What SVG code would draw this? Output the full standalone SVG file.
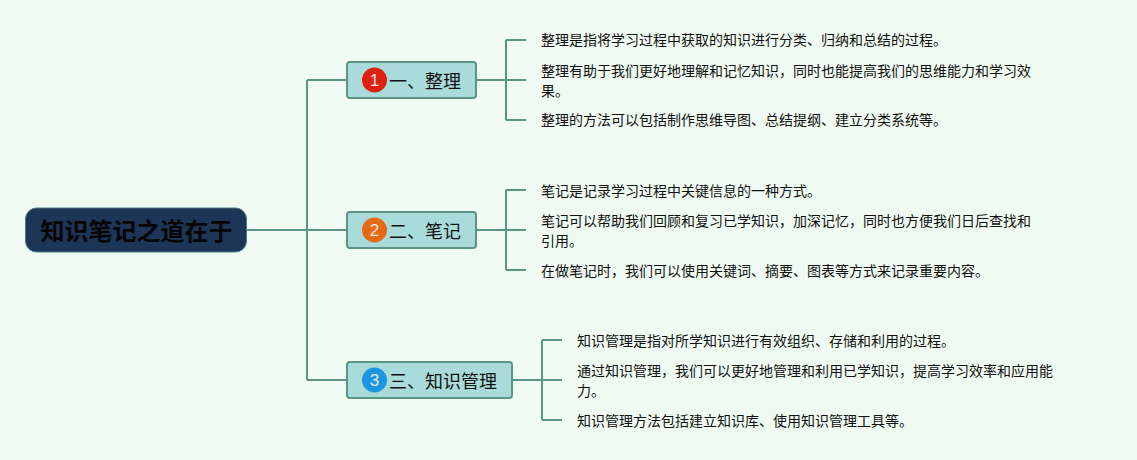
<svg xmlns="http://www.w3.org/2000/svg" width="1137" height="460" viewBox="0 0 1137 460">
<style>
text{font-family:"Noto Sans CJK SC","Noto Sans",sans-serif;fill:#111}
.c{fill:none;stroke:#5b9485;stroke-width:2}
.b{fill:#a8dbda;stroke:#5b9485;stroke-width:2}
.l{font-size:14px}
.t{font-size:18px}
.n{font-family:"Liberation Sans",sans-serif;font-size:17px;fill:#f3e6dc;text-anchor:middle}
</style>
<rect width="1137" height="460" fill="#eefaf2"/>
<g id="connectors">
<path class="c" d="M247 230H347M307 80V380M307 80H347M307 380H347"/>
<path class="c" d="M477 80H526M506 40V120M506 40H526M506 120H526"/>
<path class="c" d="M477 230H526M506 190V270M506 190H526M506 270H526"/>
<path class="c" d="M513 380H562M542 340V420M542 340H562M542 420H562"/>
</g>
<g id="root"><rect x="25.500" y="208" width="221" height="44" rx="11" fill="#1d3557" stroke="#4f7a85" stroke-width="1"/><text x="136.500" y="240" text-anchor="middle" font-size="24" font-weight="700" style="fill:#050505">知识笔记之道在于</text></g>
<g id="n1"><rect class="b" x="347" y="62" width="129" height="36" rx="3"/><circle cx="374.500" cy="80" r="12.500" fill="#dd2010"/><text class="n" x="374.500" y="86">1</text><text class="t" x="389" y="88">一、整理</text></g>
<g id="n2"><rect class="b" x="347" y="212" width="129" height="36" rx="3"/><circle cx="374.500" cy="230" r="12.500" fill="#e56a16"/><text class="n" x="374.500" y="236">2</text><text class="t" x="389" y="238">二、笔记</text></g>
<g id="n3"><rect class="b" x="347" y="362" width="165" height="36" rx="3"/><circle cx="374.500" cy="380" r="12.500" fill="#1c96e0"/><text class="n" x="374.500" y="386">3</text><text class="t" x="389" y="388">三、知识管理</text></g>
<g id="n1a"><text class="l" x="541" y="45">整理是指将学习过程中获取的知识进行分类、归纳和总结的过程。</text></g>
<g id="n1b"><text class="l" x="541" y="76">整理有助于我们更好地理解和记忆知识，同时也能提高我们的思维能力和学习效</text><text class="l" x="541" y="96">果。</text></g>
<g id="n1c"><text class="l" x="541" y="125">整理的方法可以包括制作思维导图、总结提纲、建立分类系统等。</text></g>
<g id="n2a"><text class="l" x="541" y="196">笔记是记录学习过程中关键信息的一种方式。</text></g>
<g id="n2b"><text class="l" x="541" y="226">笔记可以帮助我们回顾和复习已学知识，加深记忆，同时也方便我们日后查找和</text><text class="l" x="541" y="246">引用。</text></g>
<g id="n2c"><text class="l" x="541" y="276">在做笔记时，我们可以使用关键词、摘要、图表等方式来记录重要内容。</text></g>
<g id="n3a"><text class="l" x="577" y="346">知识管理是指对所学知识进行有效组织、存储和利用的过程。</text></g>
<g id="n3b"><text class="l" x="577" y="376">通过知识管理，我们可以更好地管理和利用已学知识，提高学习效率和应用能</text><text class="l" x="577" y="396">力。</text></g>
<g id="n3c"><text class="l" x="577" y="426">知识管理方法包括建立知识库、使用知识管理工具等。</text></g>
</svg>
